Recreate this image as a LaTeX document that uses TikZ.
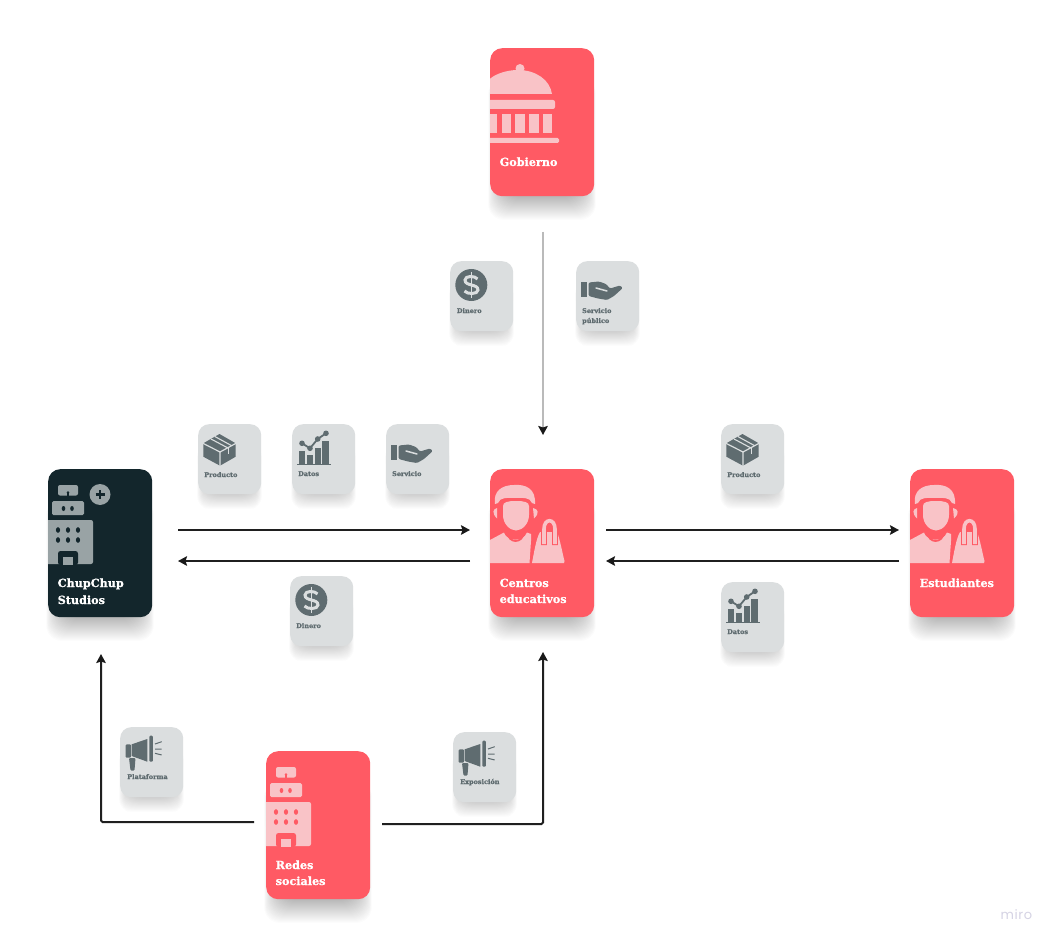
\documentclass[tikz,border=0pt]{standalone}
\usepackage{fontspec}
\usetikzlibrary{arrows.meta}
\newfontfamily\slabfont[BoldFeatures={FakeBold=0.8}]{DejaVu Serif}
\newfontfamily\logofont{Poppins}
\definecolor{coral}{HTML}{FF5A64}
\definecolor{coralpale}{HTML}{F9C3C7}
\definecolor{ink}{HTML}{13262C}
\definecolor{inkpale}{HTML}{99A3A5}
\definecolor{chip}{HTML}{DBDEDF}
\definecolor{chipicon}{HTML}{5F6C70}
\definecolor{shade}{HTML}{7C8B92}
\definecolor{logotxt}{HTML}{D5D3E4}
\colorlet{ic}{coralpale}
\colorlet{bgc}{coral}
\tikzset{
  cardbox/.style={anchor=north west,inner sep=0pt,minimum width=104pt,minimum height=148pt,rounded corners=12pt,fill=#1},
  chipbox/.style={anchor=north west,inner sep=0pt,minimum width=63pt,minimum height=70pt,rounded corners=11pt,fill=chip},
  cardtext/.style={anchor=base west,inner sep=0pt,text=white,align=left,font=\slabfont\bfseries\fontsize{11.2}{16}\selectfont},
  chiptext/.style={anchor=base west,inner sep=0pt,text=chipicon,align=left,font=\slabfont\bfseries\fontsize{6.5}{10}\selectfont},
  flowtip/.style={-{Stealth[length=9pt,width=9.5pt,inset=1.5pt,color=black!90,fill=black!90]}},
  flow/.style={draw=black!88,line width=2pt,flowtip},
}
% soft shadows: x y w h
\newcommand{\softshadow}[4]{%
  \foreach \i in {1,...,26}{
    \fill[shade,opacity=0.0125,rounded corners=16pt]
      ({#1+17-\i*0.72},{#2+30}) rectangle ({#1+#3-17+\i*0.72},{#2+#4-2+\i*1.0});
  }
}
\newcommand{\softshadowsmall}[4]{%
  \foreach \i in {1,...,18}{
    \fill[shade,opacity=0.0105,rounded corners=13pt]
      ({#1+12-\i*0.72},{#2+20}) rectangle ({#1+#3-12+\i*0.72},{#2+#4-2+\i*0.95});
  }
}
% --- large icons, local coordinates from card's top-left
\newcommand{\capitolicon}{
  \fill[ic] (-8,46) .. controls (-8,30) and (12,22) .. (28,22) .. controls (46,22) and (60,32) .. (62,46) -- cycle;
  \fill[ic] (30,20.5) circle (4.5);
  \fill[ic,rounded corners=2pt] (-4,52) rectangle (65,61);
  \foreach \a/\b in {-2/7,12/21,25/35,39/49,53/62}{\fill[ic] (\a,66) rectangle (\b,85);}
  \fill[ic,rounded corners=1.5pt] (-4,90) rectangle (69,95);
}
\newcommand{\personicon}{
  % hair
  \fill[ic] (5,35) .. controls (3,22) and (12,16) .. (24,16) .. controls (36,15) and (46,20) .. (45,35)
     -- (42,34) .. controls (40,28) and (33,29) .. (25,29) .. controls (17,29) and (10,28) .. (8,34) -- cycle;
  % ears
  \fill[ic] (7,39) .. controls (3,40) and (1.5,44) .. (7,49.5) -- cycle;
  \fill[ic] (43,39) .. controls (48,40) and (50,44) .. (44,49.5) -- cycle;
  % face
  \fill[ic] (13,37) .. controls (13,33) and (18,32) .. (26,32) .. controls (34,32) and (39,33) .. (39,37)
    -- (39,46) .. controls (39,55) and (32,61.5) .. (26,61.5) .. controls (20,61.5) and (13,55) .. (13,46) -- cycle;
  % body
  \fill[ic] (0,71) -- (14,63.5) .. controls (16,72) and (33,74) .. (37,63.5) -- (41,65) -- (41,72) -- (39.5,94) -- (0,94) -- cycle;
  % necklace gap
  \draw[bgc,line width=1.8pt] (17.5,63) .. controls (18,75) and (33,75) .. (34,63);
  % bag
  \fill[ic] (50,63) -- (67,63) .. controls (70,70) and (73,87) .. (74.5,92) -- (74,94) -- (42,94) .. controls (44,84) and (46,70) .. (50,63) -- cycle;
  \draw[bgc,line width=5.6pt] (54,76) -- (54,60) .. controls (54,49) and (65,49) .. (65,60) -- (65,76);
  \draw[ic,line width=3.6pt] (54,75) -- (54,60) .. controls (54,49) and (65,49) .. (65,60) -- (65,75);
}
\newcommand{\buildingicon}{
  \fill[ic,rounded corners=2pt] (10,26.5) -- (10,16) -- (30,16) -- (30,26.5) -- cycle;
  \fill[bgc] (20,23.5) circle (1.4);
  \fill[bgc] (18.6,23.5) rectangle (21.4,27);
  \fill[ic,rounded corners=1.5pt] (4,32) rectangle (36,46);
  \foreach \a in {15.5,24}{\fill[bgc] (\a,39.5) ellipse (1.8 and 2.5);}
  \fill[ic,rounded corners=2pt] (-4,51) rectangle (45,95);
  \foreach \a in {10,20,30}{\foreach \b in {61,71}{\fill[bgc] (\a,\b) ellipse (2.1 and 2.8);}}
  \fill[bgc,rounded corners=2.5pt] (10,96) -- (10,82) -- (30,82) -- (30,96) -- cycle;
  \fill[ic] (15,88) rectangle (25,96);
}
\newcommand{\dollaricon}{
  \fill[chipicon] (21.3,24) circle (16);
  \draw[chip,line width=3pt] (27.5,18) .. controls (25,14.5) and (15,14.5) .. (15,19)
     .. controls (15,25.5) and (28,22.5) .. (28,29) .. controls (28,33.5) and (17,33.5) .. (14.5,30);
  \draw[chip,line width=1.6pt] (21.3,11) -- (21.3,37);
}
\newcommand{\handicon}{
  \fill[chipicon] (5.3,21) rectangle (10.6,36);
  \fill[chipicon,rounded corners=1.2pt] (12.7,21.5) -- (23,20.5) -- (30,23) -- (34,27.5) -- (44,24.5) -- (46.8,27)
    -- (38,35) -- (31,39) -- (22,37.5) -- (12.7,35) -- cycle;
  \draw[chip,line width=1.5pt,line cap=round] (20,27) -- (31,30);
}
\newcommand{\boxicon}{
  \fill[chipicon] (21.5,10) -- (37.7,19.3) -- (37.7,32.7) -- (22,41.7) -- (5.3,32.7) -- (5.3,19.3) -- cycle;
  \draw[chip,line width=1.2pt] (5,19.3) -- (22,28) -- (38,19.3) (22,28) -- (22,42);
  \draw[chip,line width=1.1pt] (13,15) -- (30,24) (17,12.6) -- (33.5,21.6);
  \draw[chip,line width=0.9pt] (30,24) -- (30,30);
}
\newcommand{\charticon}{
  \foreach \a/\b/\c in {7/13/27,15.3/21.3/31,23/28.7/24.3,30.3/37/17}{\fill[chipicon] (\a,\c) rectangle (\b,39.6);}
  \fill[chipicon] (5.3,39.6) rectangle (38.7,40.8);
  \draw[chip,line width=3.4pt] (10,19.3) -- (18,24.3) -- (25.7,15) -- (34,9.3);
  \draw[chipicon,line width=1.8pt] (10,19.3) -- (18,24.3) -- (25.7,15) -- (34,9.3);
  \foreach \a/\b in {10/19.3,18/24.3,25.7/15,34/9.3}{\fill[chipicon] (\a,\b) circle (2.8);}
}
\newcommand{\megaicon}{
  \fill[chipicon,rounded corners=1pt] (5.7,17.3) rectangle (10.9,30.7);
  \fill[chipicon] (11.7,17.3) -- (27.3,12) -- (27.3,34.7) -- (11.7,29) -- cycle;
  \fill[chipicon,rounded corners=1pt] (29.3,8.7) rectangle (32.9,34.7);
  \fill[chipicon,rounded corners=1pt] (9,31) -- (15.5,31) -- (14.5,43.5) -- (10.5,43.5) -- cycle;
  \draw[chipicon,line width=1pt] (35,17) -- (41.7,14.7) (35,22) -- (41.7,22) (35,26.3) -- (41.7,28);
}
\begin{document}
\begin{tikzpicture}[x=1pt,y=-1pt]
\useasboundingbox (0,0) rectangle (1058,944);
\fill[white] (0,0) rectangle (1058,944);

% shadows
\softshadow{490}{48}{104}{148}
\softshadow{48}{469}{104}{148}
\softshadow{490}{469}{104}{148}
\softshadow{910}{469}{104}{148}
\softshadow{266}{751}{104}{148}
\foreach \x/\y in {450/261,576/261,198/424,292/424,386/424,721/424,290/576,721/582,120/727,453/732}{
  \softshadowsmall{\x}{\y}{63}{70}
}

% large cards
\node[cardbox=coral] (gob) at (490,48) {};
\node[cardbox=ink] (chup) at (48,469) {};
\node[cardbox=coral] (centros) at (490,469) {};
\node[cardbox=coral] (estud) at (910,469) {};
\node[cardbox=coral] (redes) at (266,751) {};

\begin{scope}[shift={(490,48)}]\clip (0,0) rectangle (104,148);\capitolicon\end{scope}
\begin{scope}[shift={(490,469)}]\clip (0,0) rectangle (104,148);\personicon\end{scope}
\begin{scope}[shift={(910,469)}]\clip (0,0) rectangle (104,148);\personicon\end{scope}
\begin{scope}[shift={(266,751)}]\clip (0,0) rectangle (104,148);\buildingicon\end{scope}
\begin{scope}[shift={(48,469)}]
  \colorlet{ic}{inkpale}\colorlet{bgc}{ink}
  \clip (0,0) rectangle (104,148);\buildingicon
  \fill[ic] (52,25.5) circle (10.5);
  \draw[bgc,line width=2.2pt] (47.5,25.5) -- (56.5,25.5) (52,21) -- (52,30);
\end{scope}

\node[cardtext] (tgob) at (499.5,166) {Gobierno};
\node[cardtext] (tchup) at (57.5,587) {ChupChup};
\node[cardtext] (tchup2) at (57.5,604) {Studios};
\node[cardtext] (tcen) at (499.5,587) {Centros};
\node[cardtext] (tcen2) at (499.5,603) {educativos};
\node[cardtext] (test) at (919.5,587) {Estudiantes};
\node[cardtext] (tred) at (275.5,869) {Redes};
\node[cardtext] (tred2) at (275.5,885) {sociales};

% chips
\node[chipbox] (c1) at (450,261) {};
\node[chipbox] (c2) at (576,261) {};
\node[chipbox] (c3) at (198,424) {};
\node[chipbox] (c4) at (292,424) {};
\node[chipbox] (c5) at (386,424) {};
\node[chipbox] (c6) at (721,424) {};
\node[chipbox] (c7) at (290,576) {};
\node[chipbox] (c8) at (721,582) {};
\node[chipbox] (c9) at (120,727) {};
\node[chipbox] (c10) at (453,732) {};

\begin{scope}[shift={(450,261)}]\dollaricon\end{scope}
\begin{scope}[shift={(576,261)}]\handicon\end{scope}
\begin{scope}[shift={(198,424)}]\boxicon\end{scope}
\begin{scope}[shift={(292,424)}]\charticon\end{scope}
\begin{scope}[shift={(386,424)}]\handicon\end{scope}
\begin{scope}[shift={(721,424)}]\boxicon\end{scope}
\begin{scope}[shift={(290,576)}]\dollaricon\end{scope}
\begin{scope}[shift={(721,582)}]\charticon\end{scope}
\begin{scope}[shift={(120,727)}]\megaicon\end{scope}
\begin{scope}[shift={(453,732)}]\megaicon\end{scope}

\node[chiptext] (l1) at (456.7,313) {Dinero};
\node[chiptext] (l2) at (582,313) {Servicio};
\node[chiptext] (l2b) at (582,323) {público};
\node[chiptext] (l3) at (204,477) {Producto};
\node[chiptext] (l4) at (298,476) {Datos};
\node[chiptext] (l5) at (392,476) {Servicio};
\node[chiptext] (l6) at (727,477) {Producto};
\node[chiptext] (l7) at (296,628) {Dinero};
\node[chiptext] (l8) at (727,634) {Datos};
\node[chiptext] (l9) at (127,779) {Plataforma};
\node[chiptext] (l10) at (460,784) {Exposición};

% connector ends
\coordinate (g0) at (543,232);
\coordinate (g1) at (543,435);
\coordinate (a0) at (178,530); \coordinate (a1) at (470,530);
\coordinate (b0) at (470,561); \coordinate (b1) at (178,561);
\coordinate (d0) at (606,530); \coordinate (d1) at (899,530);
\coordinate (e0) at (899,561); \coordinate (e1) at (606,561);
\coordinate (r0) at (254,822); \coordinate (rc) at (101,822); \coordinate (r1) at (101,654);
\coordinate (s0) at (382,824); \coordinate (sc) at (543,824); \coordinate (s1) at (543,652);

\draw[draw=black!27,line width=2.3pt,flowtip] (g0) -- (g1);
\draw[flow] (a0) -- (a1);
\draw[flow] (b0) -- (b1);
\draw[flow] (d0) -- (d1);
\draw[flow] (e0) -- (e1);
\draw[flow,rounded corners=1.5pt] (r0) -- (rc) -- (r1);
\draw[flow,rounded corners=1.5pt] (s0) -- (sc) -- (s1);

\node[anchor=base west,inner sep=0pt,text=logotxt,font=\logofont\fontsize{13}{13}\selectfont] (logo) at (1000.5,919) {m\kern0.6pt i\kern0.6pt r\kern0.6pt o};
\end{tikzpicture}
\end{document}
